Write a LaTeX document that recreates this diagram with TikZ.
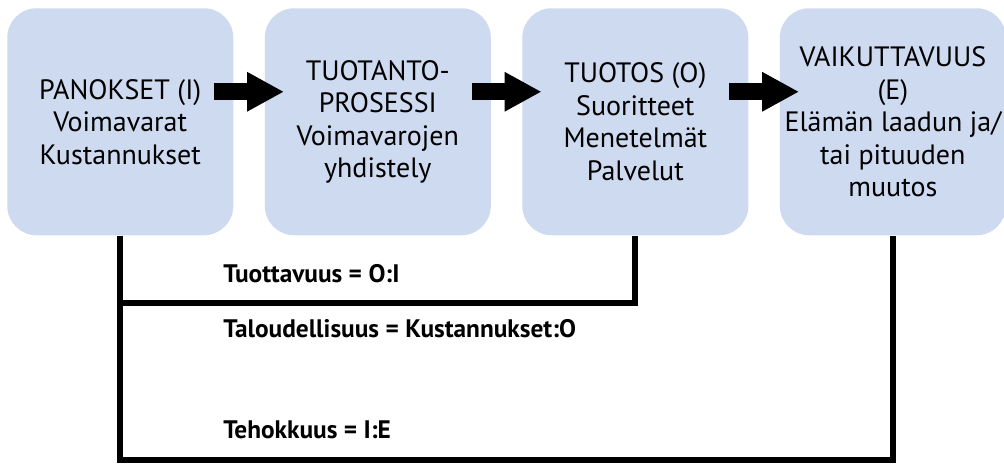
\documentclass[tikz,border=0pt]{standalone}
\usepackage{fontspec}
\setmainfont{PT Sans}
\usetikzlibrary{positioning,calc,arrows.meta}
\definecolor{laatikko}{RGB}{206,218,240}
\tikzset{
  vaihe/.style={fill=laatikko, rounded corners=22pt, minimum width=169.5pt, minimum height=170.25pt,
    align=center, inner sep=0pt, font=\fontsize{21}{24.4}\selectfont},
  nuoli/.style={line width=12.75pt, -{Triangle[length=27.75pt,width=27.75pt]}},
  viiva/.style={line width=4.5pt},
  kaava/.style={font=\fontsize{19}{22}\selectfont\bfseries, anchor=base west, inner sep=0pt}
}
\begin{document}
\begin{tikzpicture}
\useasboundingbox (0,0) rectangle (753pt,-348pt);

% vaiheet
\node[vaihe, anchor=north west] (panos) at (5.25pt,-6pt) {PANOKSET (I)\\Voimavarat\\Kustannukset};
\node[vaihe, right=23.25pt of panos] (prosessi) {TUOTANTO-\\PROSESSI\\Voimavarojen\\yhdistely};
\node[vaihe, right=23.25pt of prosessi] (tuotos) {TUOTOS (O)\\Suoritteet\\Menetelmät\\Palvelut};
\node[vaihe, right=23.25pt of tuotos] (vaikutus) {VAIKUTTAVUUS\\(E)\\Elämän laadun ja/\\tai pituuden\\muutos};

% nuolet
\foreach \a/\b in {panos/prosessi, prosessi/tuotos, tuotos/vaikutus}
  \draw[nuoli] ([shift={(-14.6pt,22.5pt)}]\a.east) -- ([shift={(14.6pt,22.5pt)}]\b.west);

% mittarit
\coordinate (keski) at (0,-227.25pt);
\coordinate (ala) at (0,-345pt);
\draw[viiva] (panos.south) |- (ala -| vaikutus.south) -- (vaikutus.south);
\draw[viiva] (panos.south |- keski) -| (tuotos.south);

\node[kaava] (tuottavuus) at (167.25pt,-211.5pt) {Tuottavuus = O:I};
\node[kaava] (talous) at (167.25pt,-252.75pt) {Taloudellisuus = Kustannukset:O};
\node[kaava] (tehokkuus) at (167.25pt,-328.5pt) {Tehokkuus = I:E};

\end{tikzpicture}
\end{document}
